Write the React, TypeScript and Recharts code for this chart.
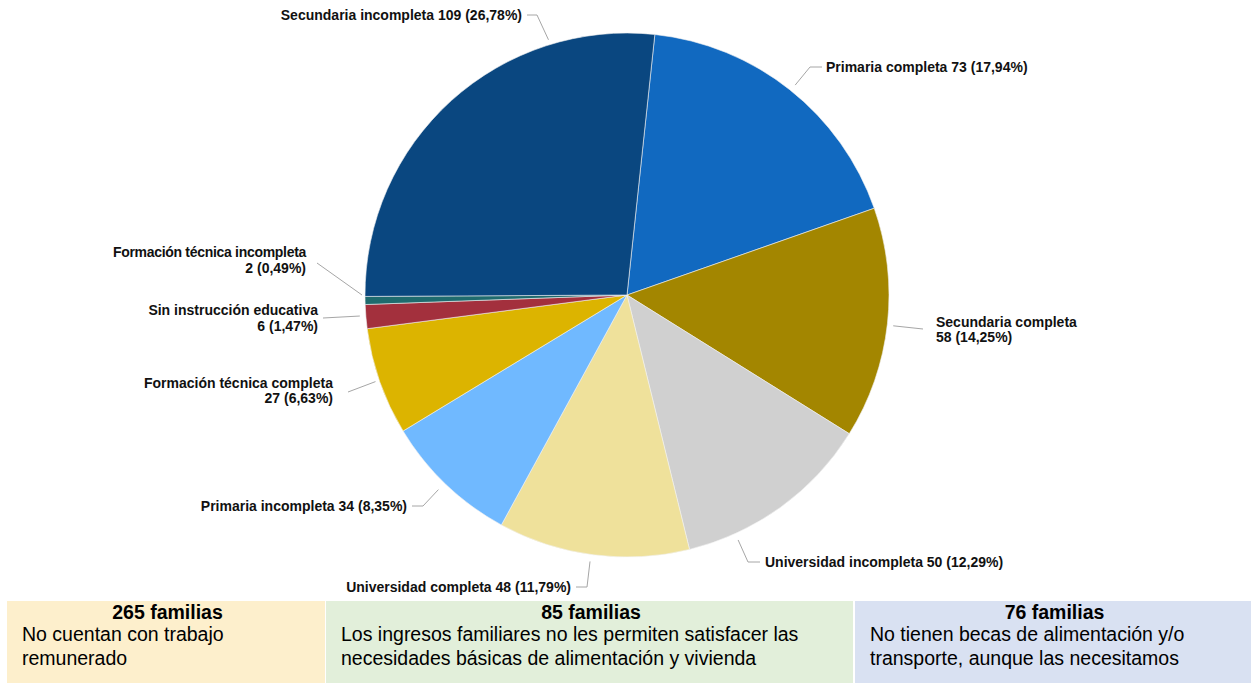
import React from "react";
import { PieChart, Pie, Cell } from "recharts";

// datos del gráfico (nivel educativo)
const categorias = [
  "Primaria completa",
  "Secundaria completa",
  "Universidad incompleta",
  "Universidad completa",
  "Primaria incompleta",
  "Formación técnica completa",
  "Sin instrucción educativa",
  "Formación técnica incompleta",
  "Secundaria incompleta",
];
const valores = [73, 58, 50, 48, 34, 27, 6, 2, 109];
const porcentajes = ["17,94%", "14,25%", "12,29%", "11,79%", "8,35%", "6,63%", "1,47%", "0,49%", "26,78%"];
const colores = ["#1169c0", "#a38600", "#d0d0d0", "#efe19b", "#70b9ff", "#dcb400", "#a3303d", "#1f6b6e", "#0a4780"];

// cajas inferiores
const cajasTitulo = ["265 familias", "85 familias", "76 familias"];
const cajasTexto = [
  "No cuentan con trabajo remunerado",
  "Los ingresos familiares no les permiten satisfacer las necesidades básicas de alimentación y vivienda",
  "No tienen becas de alimentación y/o transporte, aunque las necesitamos",
];

// disposición de etiquetas: ángulo del borde (horario desde arriba), codo y fin relativos al centro
type LabelLayout = {
  angle: number;
  r: number;
  elbow: [number, number];
  end: [number, number];
  tx: number;
  lines: number[];
  anchor: "start" | "end";
  twoLine: boolean;
  letterSpacing?: number;
};
const layout: LabelLayout[] = [
  { angle: 38.7, r: 269, elbow: [183, -228], end: [195, -228], tx: 199, lines: [-228], anchor: "start", twoLine: false },
  { angle: 96.6, r: 268, elbow: [296, 34], end: [296, 34], tx: 309, lines: [27, 42], anchor: "start", twoLine: true },
  { angle: 155.6, r: 269, elbow: [121, 267], end: [133, 267], tx: 138, lines: [267], anchor: "start", twoLine: false },
  { angle: 187.9, r: 269, elbow: [-40, 292], end: [-51, 292], tx: -56, lines: [292], anchor: "end", twoLine: false },
  { angle: 224.1, r: 271, elbow: [-204, 211], end: [-215, 211], tx: -220, lines: [211], anchor: "end", twoLine: false },
  { angle: 251, r: 266, elbow: [-279, 97], end: [-279, 97], tx: -294, lines: [88, 103], anchor: "end", twoLine: true },
  { angle: 265.5, r: 268, elbow: [-304, 23], end: [-304, 23], tx: -309, lines: [15, 31], anchor: "end", twoLine: true },
  { angle: 270, r: 265, elbow: [-310, -32], end: [-310, -32], tx: -321, lines: [-43, -27], anchor: "end", twoLine: true, letterSpacing: -0.3 },
  { angle: 342.9, r: 267, elbow: [-90, -280], end: [-100, -280], tx: -105, lines: [-280], anchor: "end", twoLine: false },
];

const data = categorias.map((name, i) => ({ name, value: valores[i] }));

const LABEL_FONT = 14;

const renderLabel = (props: any) => {
  const { cx, cy, index } = props;
  const l = layout[index];
  const a = (l.angle * Math.PI) / 180;
  const sx = cx + Math.sin(a) * l.r;
  const sy = cy - Math.cos(a) * l.r;
  const pts = `${sx},${sy} ${cx + l.elbow[0]},${cy + l.elbow[1]} ${cx + l.end[0]},${cy + l.end[1]}`;
  const nombre = categorias[index];
  const cifra = `${valores[index]} (${porcentajes[index]})`;
  return (
    <g key={`lbl-${index}`}>
      <polyline points={pts} fill="none" stroke="#a6a6a6" strokeWidth={1} />
      {l.twoLine ? (
        <>
          <text x={cx + l.tx} y={cy + l.lines[0]} textAnchor={l.anchor} dominantBaseline="central" fontSize={LABEL_FONT} fontWeight="bold" fill="#111" style={{ letterSpacing: l.letterSpacing ?? 0 }}>
            {nombre}
          </text>
          <text x={cx + l.tx} y={cy + l.lines[1]} textAnchor={l.anchor} dominantBaseline="central" fontSize={LABEL_FONT} fontWeight="bold" fill="#111">
            {cifra}
          </text>
        </>
      ) : (
        <text x={cx + l.tx} y={cy + l.lines[0]} textAnchor={l.anchor} dominantBaseline="central" fontSize={LABEL_FONT} fontWeight="bold" fill="#111">
          {`${nombre} ${cifra}`}
        </text>
      )}
    </g>
  );
};

const boxStyles = [
  { left: 7, width: 318, background: "#fdefcc" },
  { left: 326, width: 527, background: "#e2efda" },
  { left: 855, width: 396, background: "#d9e1f2" },
];

export default function App() {
  return (
    <div style={{ position: "absolute", left: 0, top: 0, width: 1251, height: 683, background: "#fff", fontFamily: "'Liberation Sans', Arial, sans-serif", overflow: "hidden" }}>
      <PieChart width={1251} height={600} margin={{ top: 0, right: 0, bottom: 0, left: 0 }}>
        <Pie
          data={data}
          dataKey="value"
          nameKey="name"
          cx={627}
          cy={295}
          outerRadius={262}
          startAngle={83.9}
          endAngle={-276.1}
          stroke="#f2f2f2"
          strokeWidth={0.6}
          label={renderLabel}
          labelLine={false}
          isAnimationActive={false}
        >
          {data.map((d, i) => (
            <Cell key={d.name} fill={colores[i]} />
          ))}
        </Pie>
      </PieChart>
      {cajasTitulo.map((t, i) => (
        <div
          key={t}
          style={{
            position: "absolute",
            top: 601,
            height: 82,
            left: boxStyles[i].left,
            width: boxStyles[i].width,
            background: boxStyles[i].background,
            boxSizing: "border-box",
            padding: "0 12px 0 15px",
            color: "#000",
          }}
        >
          <div style={{ textAlign: "center", fontWeight: "bold", fontSize: 19.5, lineHeight: "22px", marginTop: 0 }}>{t}</div>
          <div style={{ fontSize: 19.5, lineHeight: "24px", marginTop: -1 }}>{cajasTexto[i]}</div>
        </div>
      ))}
    </div>
  );
}
